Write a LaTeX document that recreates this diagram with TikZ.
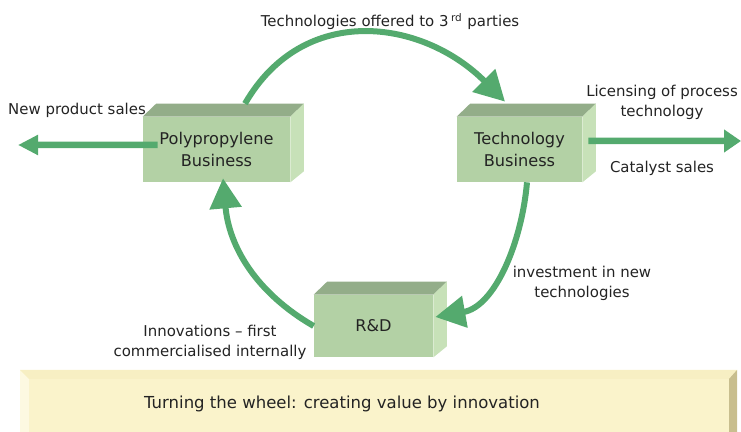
\documentclass[tikz,border=0pt]{standalone}
\usepackage{fontspec}
\setmainfont{DejaVu Sans}
\usetikzlibrary{arrows.meta}

\definecolor{wheelgreen}{RGB}{84,170,110}
\definecolor{boxfront}{RGB}{179,209,165}
\definecolor{boxtop}{RGB}{147,173,137}
\definecolor{boxside}{RGB}{199,225,184}
\definecolor{textgray}{RGB}{35,35,35}
\definecolor{bannerface}{RGB}{250,243,203}
\definecolor{bannerlight}{RGB}{253,249,225}
\definecolor{bannertop}{RGB}{247,239,195}
\definecolor{bannerdark}{RGB}{200,190,142}

\tikzset{
  block/.style={fill=boxfront, minimum height=1.3cm, inner sep=0pt, align=center,
    text=textgray, font=\fontsize{9.2}{12}\selectfont},
  flowtext/.style={align=center, text=textgray, font=\fontsize{8.5}{11.4}\selectfont},
  wheel/.style={line width=0.12cm, color=wheelgreen, -{Triangle[length=0.6cm,width=0.62cm]}},
  outflow/.style={line width=0.13cm, color=wheelgreen}
}

% top and side faces of a block
\newcommand{\cubefaces}[1]{%
  \fill[boxtop] (#1.north west) -- ++(0.27,0.26) -- ([shift={(0.27,0.26)}]#1.north east) -- (#1.north east) -- cycle;
  \fill[boxside] (#1.north east) -- ++(0.27,0.26) -- ([shift={(0.27,0.22)}]#1.south east) -- (#1.south east) -- cycle;
}

\begin{document}
\begin{tikzpicture}
  \useasboundingbox (0,0) rectangle (14.82,8.64);

  % the three blocks
  \node (ppb) [block, minimum width=2.94cm] at (4.33,5.65) {Polypropylene\\Business};
  \cubefaces{ppb}
  \node (tech) [block, minimum width=2.50cm] at (10.39,5.65) {Technology\\Business};
  \cubefaces{tech}
  \node (rd) [block, minimum width=2.38cm, minimum height=1.24cm] at (7.47,2.12) {R\&D};
  \cubefaces{rd}

  % the wheel
  \draw [wheel] ([shift={(0.57,0.26)}]ppb.north) to[out=60,in=135,looseness=1.15] ([shift={(-0.29,0.30)}]tech.north);
  \draw [wheel] ([xshift=0.15cm]tech.south) to[out=-95,in=10,looseness=0.95] ([shift={(0.04,0.18)}]rd.east);
  \draw [wheel] (rd.west) to[out=150,in=-85] ([shift={(0.13,0.08)}]ppb.south);

  % sales going out
  \coordinate (npsend) at (0.36,5.74);
  \coordinate (licend) at (14.82,5.82);
  \draw [outflow, -{Triangle[length=0.4cm,width=0.38cm]}] ([shift={(0.3,0.09)}]ppb.west) -- (npsend);
  \draw [outflow, -{Triangle[length=0.34cm,width=0.44cm]}] ([shift={(0.12,0.17)}]tech.east) -- (licend);

  \node (offered) [flowtext] at (7.80,8.20) {Technologies offered to 3\,\textsuperscript{rd} parties};
  \node (nps) [flowtext] at (1.54,6.44) {New product sales};
  \node (licensing) [flowtext] at (13.24,6.59) {Licensing of process\\technology};
  \node (catalyst) [flowtext] at (13.24,5.28) {Catalyst sales};
  \node (invest) [flowtext] at (11.64,2.98) {investment in new\\technologies};
  \node (innov) [flowtext] at (4.20,1.80) {Innovations -- first\\commercialised internally};

  % banner along the bottom
  \fill [bannerface] (0.40,0) rectangle (14.74,1.24);
  \fill [bannerlight] (0.40,0) -- (0.40,1.24) -- (0.58,1.06) -- (0.58,0) -- cycle;
  \fill [bannertop] (0.40,1.24) -- (14.74,1.24) -- (14.58,1.06) -- (0.58,1.06) -- cycle;
  \fill [bannerdark] (14.74,1.24) -- (14.74,0) -- (14.58,0) -- (14.58,1.06) -- cycle;
  \node (banner) [flowtext, font=\fontsize{9.4}{12}\selectfont] at (6.84,0.56) {Turning the wheel: creating value by innovation};
\end{tikzpicture}
\end{document}
